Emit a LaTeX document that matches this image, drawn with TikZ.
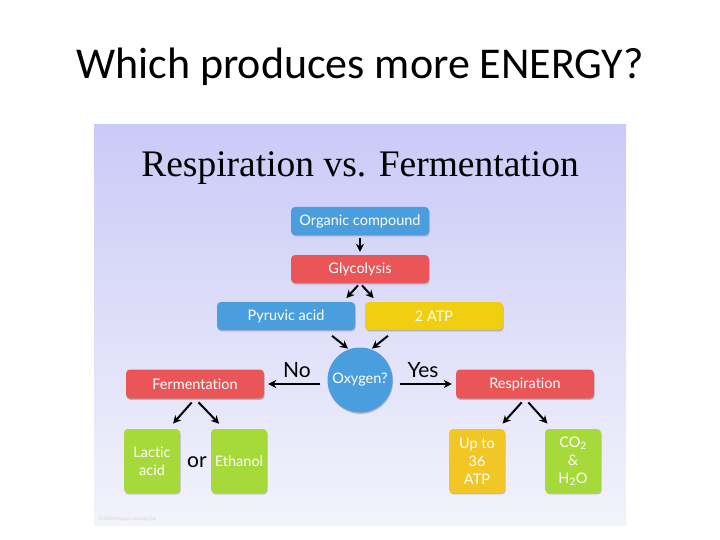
\documentclass[tikz,border=0pt]{standalone}
\usepackage{fontspec}
\usepackage{tikz}
\usetikzlibrary{arrows.meta,shadows}
\newfontfamily\slidefont{Carlito}
\newfontfamily\boxfont[Ligatures=NoCommon]{Lato}
\newfontfamily\headfont{Liberation Serif}
\definecolor{panetop}{RGB}{202,202,248}
\definecolor{panebot}{RGB}{243,243,251}
\definecolor{cblue}{RGB}{74,158,222}
\definecolor{cred}{RGB}{234,86,88}
\definecolor{cyellow}{RGB}{240,206,16}
\definecolor{corange}{RGB}{242,198,36}
\definecolor{cgreen}{RGB}{166,218,58}

\begin{document}
\begin{tikzpicture}[x=1pt,y=-1pt,
  box/.style={rectangle,rounded corners=4pt,inner sep=0pt,text=white,
    font=\boxfont\fontsize{14.5}{16}\selectfont,
    drop shadow={shadow xshift=0.6pt,shadow yshift=-1.4pt,opacity=0.22,fill=black}},
  wide/.style={box,minimum width=138pt,minimum height=28pt},
  tall/.style={box,minimum width=56pt,minimum height=64pt,align=center,
    font=\boxfont\fontsize{14.5}{18}\selectfont},
  arr/.style={-{Stealth[length=8pt,width=8pt]},line width=2pt,black},
  big/.style={font=\boxfont\fontsize{21}{23}\selectfont}]
\useasboundingbox (0,0) rectangle (720,540);
% slide title and the picture panel
\node[font=\slidefont\fontsize{44}{50}\selectfont] (slide) at (360,67) {Which produces more ENERGY?};
\shade[top color=panetop,bottom color=panebot] (94,125) rectangle (626,525);
\node[font=\headfont\fontsize{37.5}{42}\selectfont] (head) at (360,168) {Respiration vs. Fermentation};
% top chain
\node[wide,fill=cblue] (org) at (360,221) {Organic compound};
\node[wide,fill=cred] (glyco) at (360,269) {Glycolysis};
\node[wide,fill=cblue] (pyr) at (286,316) {Pyruvic acid};
\node[wide,fill=cyellow] (atp) at (434,316) {2 ATP};
\node[circle,fill=cblue,minimum size=65pt,inner sep=0pt,text=white,
  font=\boxfont\fontsize{14.5}{16}\selectfont,
  drop shadow={shadow xshift=0.6pt,shadow yshift=-1.4pt,opacity=0.22,fill=black}] (oxy) at (360,380) {Oxygen?};
% the two branches
\node[wide,minimum height=29pt,fill=cred] (ferm) at (195,384) {Fermentation};
\node[wide,minimum height=29pt,fill=cred] (resp) at (525,384) {Respiration};
\node[tall,fill=cgreen] (lactic) at (152,461) {Lactic\\acid};
\node[tall,fill=cgreen] (ethanol) at (239,461) {Ethanol};
\node[tall,fill=corange] (atpmax) at (477,461) {Up to\\36\\ATP};
\node[tall,fill=cgreen] (waste) at (573,461) {CO\textsubscript{2}\\\&\\H\textsubscript{2}O};
\node[big] (or) at (197,462) {or};
\node[big] (no) at (297,370) {No};
\node[big] (yes) at (423,370) {Yes};
% arrows
\draw[arr,shorten <=3pt,shorten >=3pt] (org) -- (glyco);
\draw[arr,shorten <=3pt,shorten >=5pt] (glyco.south) -- (pyr.14);
\draw[arr,shorten <=3pt,shorten >=5pt] (glyco.south) -- (atp.166);
\draw[arr,shorten <=9pt,shorten >=1pt] (pyr.-20) -- (oxy.110);
\draw[arr,shorten <=9pt,shorten >=1pt] (atp.-160) -- (oxy.70);
\draw[arr,shorten <=7pt,shorten >=4pt] (ferm.east -| oxy.west) -- (ferm.east);
\draw[arr,shorten <=7pt,shorten >=4pt] (resp.west -| oxy.east) -- (resp.west);
\draw[arr,shorten <=5pt,shorten >=7pt] (ferm.south) -- (lactic.63);
\draw[arr,shorten <=5pt,shorten >=7pt] (ferm.south) -- (ethanol.115);
\draw[arr,shorten <=5pt,shorten >=7pt] (resp.south) -- (atpmax.57);
\draw[arr,shorten <=5pt,shorten >=7pt] (resp.south) -- (waste.123);
\node[anchor=west,text=black!18,font=\boxfont\fontsize{4.5}{5}\selectfont] (copy) at (95,519) {© 2009 Magnus Learning Co.};
\end{tikzpicture}
\end{document}
